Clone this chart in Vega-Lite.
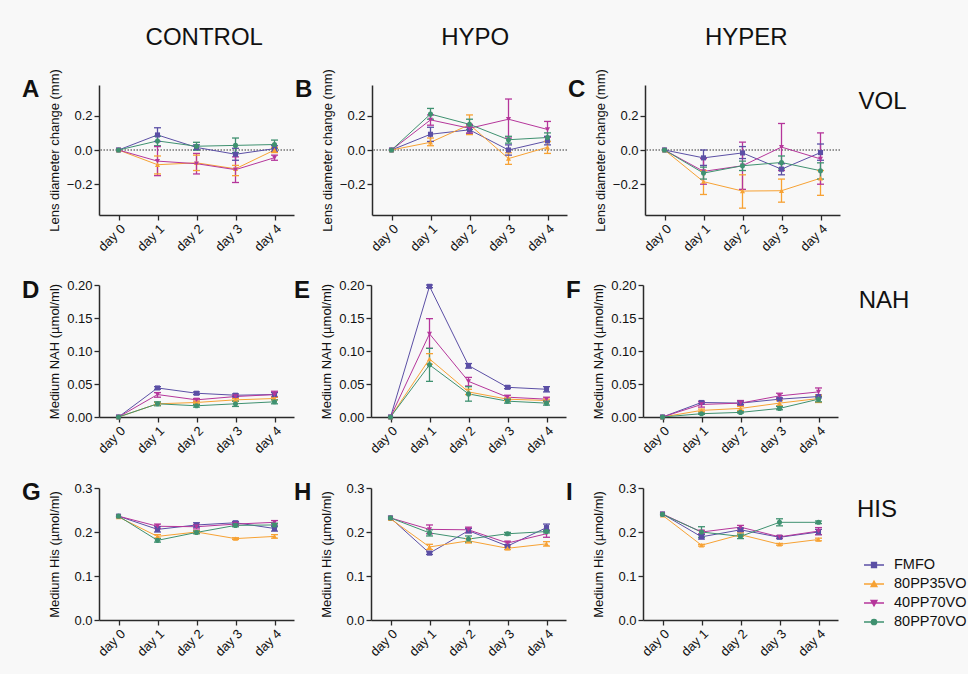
{
"$schema":"https://vega.github.io/schema/vega-lite/v6.json",
"background":"#f8f8f8",
"padding":{"left":22,"top":25,"right":3,"bottom":15},
"config":{
 "font":"Liberation Sans",
 "view":{"stroke":null},
 "axis":{"domainColor":"#2a2a2a","domainWidth":1.5,"tickColor":"#2a2a2a","tickWidth":1.3,"tickSize":5,"labelColor":"#111","labelFontSize":13,"labelFont":"Liberation Sans","titleFont":"Liberation Sans","titleFontSize":13,"titleFontWeight":"normal","titleColor":"#111","grid":false,"labelPadding":2,"labelOverlap":false},
 "axisX":{"labelAngle":-45},
 "axisY":{"minExtent":36,"maxExtent":36,"titlePadding":2},
 "title":{"orient":"top","angle":0,"anchor":"start","align":"left","baseline":"top","frame":"bounds","dx":-26,"dy":0,"fontSize":24,"fontWeight":"bold","color":"#111"},
 "tick":{"thickness":1.3,"size":7,"opacity":1},
 "point":{"filled":true,"size":26,"opacity":1},
 "line":{"strokeWidth":1},
 "rule":{"strokeWidth":1.3}
},
"datasets":{
"A":[
{"s":"FMFO","d":"day 0","v":0},{"s":"FMFO","d":"day 1","v":0.088,"lo":0.05,"hi":0.13},{"s":"FMFO","d":"day 2","v":0.015,"lo":0.0,"hi":0.03},{"s":"FMFO","d":"day 3","v":-0.025,"lo":-0.06,"hi":0.01},{"s":"FMFO","d":"day 4","v":0.008,"lo":-0.008,"hi":0.025},
{"s":"80PP35VO","d":"day 0","v":0},{"s":"80PP35VO","d":"day 1","v":-0.086,"lo":-0.14,"hi":-0.035},{"s":"80PP35VO","d":"day 2","v":-0.075,"lo":-0.12,"hi":-0.03},{"s":"80PP35VO","d":"day 3","v":-0.11,"lo":-0.15,"hi":-0.09},{"s":"80PP35VO","d":"day 4","v":0.0,"lo":-0.015,"hi":0.015},
{"s":"40PP70VO","d":"day 0","v":0},{"s":"40PP70VO","d":"day 1","v":-0.065,"lo":-0.15,"hi":0.02},{"s":"40PP70VO","d":"day 2","v":-0.08,"lo":-0.14,"hi":-0.02},{"s":"40PP70VO","d":"day 3","v":-0.115,"lo":-0.19,"hi":-0.04},{"s":"40PP70VO","d":"day 4","v":-0.045,"lo":-0.06,"hi":-0.03},
{"s":"80PP70VO","d":"day 0","v":0},{"s":"80PP70VO","d":"day 1","v":0.053,"lo":0.025,"hi":0.08},{"s":"80PP70VO","d":"day 2","v":0.022,"lo":0.0,"hi":0.045},{"s":"80PP70VO","d":"day 3","v":0.027,"lo":-0.015,"hi":0.07},{"s":"80PP70VO","d":"day 4","v":0.032,"lo":0.01,"hi":0.058}
],
"B":[
{"s":"FMFO","d":"day 0","v":0},{"s":"FMFO","d":"day 1","v":0.092,"lo":0.05,"hi":0.133},{"s":"FMFO","d":"day 2","v":0.118,"lo":0.095,"hi":0.14},{"s":"FMFO","d":"day 3","v":0.0,"lo":-0.03,"hi":0.03},{"s":"FMFO","d":"day 4","v":0.053,"lo":0.03,"hi":0.08},
{"s":"80PP35VO","d":"day 0","v":0},{"s":"80PP35VO","d":"day 1","v":0.045,"lo":0.025,"hi":0.07},{"s":"80PP35VO","d":"day 2","v":0.148,"lo":0.09,"hi":0.205},{"s":"80PP35VO","d":"day 3","v":-0.05,"lo":-0.084,"hi":-0.016},{"s":"80PP35VO","d":"day 4","v":0.016,"lo":-0.02,"hi":0.05},
{"s":"40PP70VO","d":"day 0","v":0},{"s":"40PP70VO","d":"day 1","v":0.176,"lo":0.145,"hi":0.205},{"s":"40PP70VO","d":"day 2","v":0.127,"lo":0.1,"hi":0.15},{"s":"40PP70VO","d":"day 3","v":0.18,"lo":0.07,"hi":0.298},{"s":"40PP70VO","d":"day 4","v":0.12,"lo":0.075,"hi":0.167},
{"s":"80PP70VO","d":"day 0","v":0},{"s":"80PP70VO","d":"day 1","v":0.21,"lo":0.18,"hi":0.243},{"s":"80PP70VO","d":"day 2","v":0.15,"lo":0.12,"hi":0.18},{"s":"80PP70VO","d":"day 3","v":0.06,"lo":0.04,"hi":0.08},{"s":"80PP70VO","d":"day 4","v":0.073,"lo":0.05,"hi":0.1}
],
"C":[
{"s":"FMFO","d":"day 0","v":0},{"s":"FMFO","d":"day 1","v":-0.046,"lo":-0.09,"hi":0.0},{"s":"FMFO","d":"day 2","v":-0.017,"lo":-0.05,"hi":0.02},{"s":"FMFO","d":"day 3","v":-0.112,"lo":-0.145,"hi":-0.08},{"s":"FMFO","d":"day 4","v":-0.015,"lo":-0.06,"hi":0.035},
{"s":"80PP35VO","d":"day 0","v":0},{"s":"80PP35VO","d":"day 1","v":-0.185,"lo":-0.26,"hi":-0.12},{"s":"80PP35VO","d":"day 2","v":-0.24,"lo":-0.34,"hi":-0.145},{"s":"80PP35VO","d":"day 3","v":-0.238,"lo":-0.305,"hi":-0.17},{"s":"80PP35VO","d":"day 4","v":-0.165,"lo":-0.265,"hi":-0.12},
{"s":"40PP70VO","d":"day 0","v":0},{"s":"40PP70VO","d":"day 1","v":-0.125,"lo":-0.2,"hi":-0.05},{"s":"40PP70VO","d":"day 2","v":-0.092,"lo":-0.23,"hi":0.046},{"s":"40PP70VO","d":"day 3","v":0.017,"lo":-0.12,"hi":0.155},{"s":"40PP70VO","d":"day 4","v":-0.052,"lo":-0.2,"hi":0.1},
{"s":"80PP70VO","d":"day 0","v":0},{"s":"80PP70VO","d":"day 1","v":-0.135,"lo":-0.17,"hi":-0.1},{"s":"80PP70VO","d":"day 2","v":-0.092,"lo":-0.12,"hi":-0.065},{"s":"80PP70VO","d":"day 3","v":-0.073,"lo":-0.11,"hi":-0.035},{"s":"80PP70VO","d":"day 4","v":-0.121,"lo":-0.17,"hi":-0.075}
],
"D":[
{"s":"FMFO","d":"day 0","v":0},{"s":"FMFO","d":"day 1","v":0.044,"lo":0.042,"hi":0.046},{"s":"FMFO","d":"day 2","v":0.036,"lo":0.034,"hi":0.038},{"s":"FMFO","d":"day 3","v":0.033,"lo":0.031,"hi":0.035},{"s":"FMFO","d":"day 4","v":0.034,"lo":0.031,"hi":0.037},
{"s":"80PP35VO","d":"day 0","v":0},{"s":"80PP35VO","d":"day 1","v":0.02,"lo":0.018,"hi":0.022},{"s":"80PP35VO","d":"day 2","v":0.022,"lo":0.02,"hi":0.024},{"s":"80PP35VO","d":"day 3","v":0.026,"lo":0.024,"hi":0.028},{"s":"80PP35VO","d":"day 4","v":0.028,"lo":0.026,"hi":0.03},
{"s":"40PP70VO","d":"day 0","v":0},{"s":"40PP70VO","d":"day 1","v":0.034,"lo":0.03,"hi":0.037},{"s":"40PP70VO","d":"day 2","v":0.026,"lo":0.024,"hi":0.028},{"s":"40PP70VO","d":"day 3","v":0.031,"lo":0.029,"hi":0.033},{"s":"40PP70VO","d":"day 4","v":0.034,"lo":0.03,"hi":0.039},
{"s":"80PP70VO","d":"day 0","v":0},{"s":"80PP70VO","d":"day 1","v":0.02,"lo":0.017,"hi":0.023},{"s":"80PP70VO","d":"day 2","v":0.017,"lo":0.015,"hi":0.019},{"s":"80PP70VO","d":"day 3","v":0.02,"lo":0.016,"hi":0.024},{"s":"80PP70VO","d":"day 4","v":0.023,"lo":0.02,"hi":0.026}
],
"E":[
{"s":"FMFO","d":"day 0","v":0},{"s":"FMFO","d":"day 1","v":0.198,"lo":0.196,"hi":0.2},{"s":"FMFO","d":"day 2","v":0.078,"lo":0.074,"hi":0.081},{"s":"FMFO","d":"day 3","v":0.045,"lo":0.043,"hi":0.047},{"s":"FMFO","d":"day 4","v":0.042,"lo":0.038,"hi":0.046},
{"s":"80PP35VO","d":"day 0","v":0},{"s":"80PP35VO","d":"day 1","v":0.088,"lo":0.08,"hi":0.096},{"s":"80PP35VO","d":"day 2","v":0.038,"lo":0.034,"hi":0.042},{"s":"80PP35VO","d":"day 3","v":0.027,"lo":0.025,"hi":0.029},{"s":"80PP35VO","d":"day 4","v":0.025,"lo":0.023,"hi":0.027},
{"s":"40PP70VO","d":"day 0","v":0},{"s":"40PP70VO","d":"day 1","v":0.126,"lo":0.104,"hi":0.149},{"s":"40PP70VO","d":"day 2","v":0.054,"lo":0.047,"hi":0.06},{"s":"40PP70VO","d":"day 3","v":0.03,"lo":0.027,"hi":0.033},{"s":"40PP70VO","d":"day 4","v":0.027,"lo":0.024,"hi":0.03},
{"s":"80PP70VO","d":"day 0","v":0},{"s":"80PP70VO","d":"day 1","v":0.079,"lo":0.054,"hi":0.104},{"s":"80PP70VO","d":"day 2","v":0.035,"lo":0.024,"hi":0.046},{"s":"80PP70VO","d":"day 3","v":0.024,"lo":0.021,"hi":0.027},{"s":"80PP70VO","d":"day 4","v":0.021,"lo":0.018,"hi":0.024}
],
"F":[
{"s":"FMFO","d":"day 0","v":0},{"s":"FMFO","d":"day 1","v":0.022,"lo":0.02,"hi":0.024},{"s":"FMFO","d":"day 2","v":0.021,"lo":0.019,"hi":0.023},{"s":"FMFO","d":"day 3","v":0.027,"lo":0.025,"hi":0.029},{"s":"FMFO","d":"day 4","v":0.031,"lo":0.029,"hi":0.033},
{"s":"80PP35VO","d":"day 0","v":0},{"s":"80PP35VO","d":"day 1","v":0.01,"lo":0.008,"hi":0.012},{"s":"80PP35VO","d":"day 2","v":0.013,"lo":0.01,"hi":0.016},{"s":"80PP35VO","d":"day 3","v":0.021,"lo":0.017,"hi":0.025},{"s":"80PP35VO","d":"day 4","v":0.028,"lo":0.022,"hi":0.033},
{"s":"40PP70VO","d":"day 0","v":0},{"s":"40PP70VO","d":"day 1","v":0.019,"lo":0.015,"hi":0.023},{"s":"40PP70VO","d":"day 2","v":0.021,"lo":0.017,"hi":0.025},{"s":"40PP70VO","d":"day 3","v":0.032,"lo":0.028,"hi":0.036},{"s":"40PP70VO","d":"day 4","v":0.038,"lo":0.033,"hi":0.044},
{"s":"80PP70VO","d":"day 0","v":0},{"s":"80PP70VO","d":"day 1","v":0.005,"lo":0.004,"hi":0.006},{"s":"80PP70VO","d":"day 2","v":0.007,"lo":0.006,"hi":0.008},{"s":"80PP70VO","d":"day 3","v":0.013,"lo":0.011,"hi":0.016},{"s":"80PP70VO","d":"day 4","v":0.027,"lo":0.023,"hi":0.031}
],
"G":[
{"s":"FMFO","d":"day 0","v":0.236},{"s":"FMFO","d":"day 1","v":0.206,"lo":0.2,"hi":0.212},{"s":"FMFO","d":"day 2","v":0.216,"lo":0.211,"hi":0.221},{"s":"FMFO","d":"day 3","v":0.221,"lo":0.218,"hi":0.224},{"s":"FMFO","d":"day 4","v":0.208,"lo":0.202,"hi":0.214},
{"s":"80PP35VO","d":"day 0","v":0.234},{"s":"80PP35VO","d":"day 1","v":0.19,"lo":0.186,"hi":0.194},{"s":"80PP35VO","d":"day 2","v":0.2,"lo":0.197,"hi":0.203},{"s":"80PP35VO","d":"day 3","v":0.185,"lo":0.183,"hi":0.187},{"s":"80PP35VO","d":"day 4","v":0.19,"lo":0.186,"hi":0.194},
{"s":"40PP70VO","d":"day 0","v":0.236},{"s":"40PP70VO","d":"day 1","v":0.213,"lo":0.208,"hi":0.218},{"s":"40PP70VO","d":"day 2","v":0.212,"lo":0.207,"hi":0.217},{"s":"40PP70VO","d":"day 3","v":0.218,"lo":0.215,"hi":0.221},{"s":"40PP70VO","d":"day 4","v":0.222,"lo":0.218,"hi":0.226},
{"s":"80PP70VO","d":"day 0","v":0.236},{"s":"80PP70VO","d":"day 1","v":0.181,"lo":0.177,"hi":0.185},{"s":"80PP70VO","d":"day 2","v":0.199,"lo":0.196,"hi":0.202},{"s":"80PP70VO","d":"day 3","v":0.215,"lo":0.212,"hi":0.218},{"s":"80PP70VO","d":"day 4","v":0.216,"lo":0.212,"hi":0.22}
],
"H":[
{"s":"FMFO","d":"day 0","v":0.232},{"s":"FMFO","d":"day 1","v":0.152,"lo":0.149,"hi":0.155},{"s":"FMFO","d":"day 2","v":0.203,"lo":0.198,"hi":0.208},{"s":"FMFO","d":"day 3","v":0.168,"lo":0.165,"hi":0.171},{"s":"FMFO","d":"day 4","v":0.21,"lo":0.202,"hi":0.218},
{"s":"80PP35VO","d":"day 0","v":0.23},{"s":"80PP35VO","d":"day 1","v":0.166,"lo":0.16,"hi":0.172},{"s":"80PP35VO","d":"day 2","v":0.18,"lo":0.175,"hi":0.185},{"s":"80PP35VO","d":"day 3","v":0.163,"lo":0.16,"hi":0.166},{"s":"80PP35VO","d":"day 4","v":0.173,"lo":0.168,"hi":0.178},
{"s":"40PP70VO","d":"day 0","v":0.232},{"s":"40PP70VO","d":"day 1","v":0.206,"lo":0.196,"hi":0.216},{"s":"40PP70VO","d":"day 2","v":0.205,"lo":0.199,"hi":0.211},{"s":"40PP70VO","d":"day 3","v":0.175,"lo":0.171,"hi":0.179},{"s":"40PP70VO","d":"day 4","v":0.196,"lo":0.188,"hi":0.204},
{"s":"80PP70VO","d":"day 0","v":0.232},{"s":"80PP70VO","d":"day 1","v":0.198,"lo":0.191,"hi":0.205},{"s":"80PP70VO","d":"day 2","v":0.184,"lo":0.177,"hi":0.191},{"s":"80PP70VO","d":"day 3","v":0.196,"lo":0.193,"hi":0.199},{"s":"80PP70VO","d":"day 4","v":0.201,"lo":0.198,"hi":0.204}
],
"I":[
{"s":"FMFO","d":"day 0","v":0.241},{"s":"FMFO","d":"day 1","v":0.189,"lo":0.184,"hi":0.194},{"s":"FMFO","d":"day 2","v":0.205,"lo":0.201,"hi":0.209},{"s":"FMFO","d":"day 3","v":0.188,"lo":0.185,"hi":0.191},{"s":"FMFO","d":"day 4","v":0.2,"lo":0.194,"hi":0.206},
{"s":"80PP35VO","d":"day 0","v":0.238},{"s":"80PP35VO","d":"day 1","v":0.17,"lo":0.168,"hi":0.172},{"s":"80PP35VO","d":"day 2","v":0.194,"lo":0.19,"hi":0.198},{"s":"80PP35VO","d":"day 3","v":0.172,"lo":0.17,"hi":0.174},{"s":"80PP35VO","d":"day 4","v":0.183,"lo":0.18,"hi":0.186},
{"s":"40PP70VO","d":"day 0","v":0.241},{"s":"40PP70VO","d":"day 1","v":0.2,"lo":0.196,"hi":0.204},{"s":"40PP70VO","d":"day 2","v":0.211,"lo":0.207,"hi":0.215},{"s":"40PP70VO","d":"day 3","v":0.189,"lo":0.186,"hi":0.192},{"s":"40PP70VO","d":"day 4","v":0.202,"lo":0.194,"hi":0.21},
{"s":"80PP70VO","d":"day 0","v":0.24},{"s":"80PP70VO","d":"day 1","v":0.2,"lo":0.188,"hi":0.212},{"s":"80PP70VO","d":"day 2","v":0.19,"lo":0.185,"hi":0.195},{"s":"80PP70VO","d":"day 3","v":0.222,"lo":0.214,"hi":0.23},{"s":"80PP70VO","d":"day 4","v":0.222,"lo":0.219,"hi":0.225}
]
},
"spacing":25,
"vconcat":[
{"spacing":0,"title":{"text":"VOL","orient":"right","angle":0,"anchor":"start","align":"left","baseline":"top","frame":"group","offset":-30,"fontSize":24,"fontWeight":"normal","dx":0,"dy":5},
 "hconcat":[
 {"title":{"text":"CONTROL","orient":"top","anchor":"middle","angle":0,"align":"center","baseline":"alphabetic","frame":"bounds","offset":0,"fontSize":24,"fontWeight":"normal","dx":46,"dy":0},
  "vconcat":[
  {"data":{"name":"A"},"width":195,"height":130,"title":{"text":"A","offset":-33},
   "layer":[
   {"transform":[{"filter":"datum.d==='day 0' && datum.s==='FMFO'"}],"mark":{"type":"rule","strokeDash":[1.5,1.5],"color":"#333","strokeWidth":1},"encoding":{"y":{"datum":0,"type":"quantitative","scale":{"domain":[-0.38,0.38]},"axis":{"values":[-0.2,0,0.2],"format":".1f","labelOverlap":false}}}},
   {"mark":"line","encoding":{"x":{"field":"d","type":"ordinal","title":null,"scale":{"type":"point","padding":0.5}},"y":{"field":"v","type":"quantitative","title":"Lens diameter change (mm)","scale":{"domain":[-0.38,0.38]},"axis":{"values":[-0.2,0,0.2],"format":".1f","labelOverlap":false}},"color":{"field":"s","type":"nominal","scale":{"domain":["FMFO","80PP35VO","40PP70VO","80PP70VO"],"range":["#5b4fa5","#f7a234","#b5369b","#3f9170"]},"legend":null}}},
   {"mark":"rule","encoding":{"x":{"field":"d","type":"ordinal","title":null,"scale":{"type":"point","padding":0.5}},"y":{"field":"lo","type":"quantitative","title":"Lens diameter change (mm)","scale":{"domain":[-0.38,0.38]},"axis":{"values":[-0.2,0,0.2],"format":".1f","labelOverlap":false}},"y2":{"field":"hi"},"color":{"field":"s","type":"nominal","legend":null}}},
   {"mark":"tick","encoding":{"x":{"field":"d","type":"ordinal","title":null,"scale":{"type":"point","padding":0.5}},"y":{"field":"lo","type":"quantitative","title":"Lens diameter change (mm)","scale":{"domain":[-0.38,0.38]},"axis":{"values":[-0.2,0,0.2],"format":".1f","labelOverlap":false}},"color":{"field":"s","type":"nominal","legend":null}}},
   {"mark":"tick","encoding":{"x":{"field":"d","type":"ordinal","title":null,"scale":{"type":"point","padding":0.5}},"y":{"field":"hi","type":"quantitative","title":"Lens diameter change (mm)","scale":{"domain":[-0.38,0.38]},"axis":{"values":[-0.2,0,0.2],"format":".1f","labelOverlap":false}},"color":{"field":"s","type":"nominal","legend":null}}},
   {"mark":"point","encoding":{"x":{"field":"d","type":"ordinal","title":null,"scale":{"type":"point","padding":0.5}},"y":{"field":"v","type":"quantitative","title":"Lens diameter change (mm)","scale":{"domain":[-0.38,0.38]},"axis":{"values":[-0.2,0,0.2],"format":".1f","labelOverlap":false}},"color":{"field":"s","type":"nominal","legend":null},"shape":{"field":"s","type":"nominal","scale":{"domain":["FMFO","80PP35VO","40PP70VO","80PP70VO"],"range":["square","triangle-up","triangle-down","circle"]},"legend":null}}}
   ]}
  ]},
 {"title":{"text":"HYPO","orient":"top","anchor":"middle","angle":0,"align":"center","baseline":"alphabetic","frame":"bounds","offset":0,"fontSize":24,"fontWeight":"normal","dx":44,"dy":0},
  "vconcat":[
  {"data":{"name":"B"},"width":195,"height":130,"title":{"text":"B","offset":-33},
   "layer":[
   {"transform":[{"filter":"datum.d==='day 0' && datum.s==='FMFO'"}],"mark":{"type":"rule","strokeDash":[1.5,1.5],"color":"#333","strokeWidth":1},"encoding":{"y":{"datum":0,"type":"quantitative","scale":{"domain":[-0.38,0.38]},"axis":{"values":[-0.2,0,0.2],"format":".1f","labelOverlap":false}}}},
   {"mark":"line","encoding":{"x":{"field":"d","type":"ordinal","title":null,"scale":{"type":"point","padding":0.5}},"y":{"field":"v","type":"quantitative","title":"Lens diameter change (mm)","scale":{"domain":[-0.38,0.38]},"axis":{"values":[-0.2,0,0.2],"format":".1f","labelOverlap":false}},"color":{"field":"s","type":"nominal","legend":null}}},
   {"mark":"rule","encoding":{"x":{"field":"d","type":"ordinal","title":null,"scale":{"type":"point","padding":0.5}},"y":{"field":"lo","type":"quantitative","title":"Lens diameter change (mm)","scale":{"domain":[-0.38,0.38]},"axis":{"values":[-0.2,0,0.2],"format":".1f","labelOverlap":false}},"y2":{"field":"hi"},"color":{"field":"s","type":"nominal","legend":null}}},
   {"mark":"tick","encoding":{"x":{"field":"d","type":"ordinal","title":null,"scale":{"type":"point","padding":0.5}},"y":{"field":"lo","type":"quantitative","title":"Lens diameter change (mm)","scale":{"domain":[-0.38,0.38]},"axis":{"values":[-0.2,0,0.2],"format":".1f","labelOverlap":false}},"color":{"field":"s","type":"nominal","legend":null}}},
   {"mark":"tick","encoding":{"x":{"field":"d","type":"ordinal","title":null,"scale":{"type":"point","padding":0.5}},"y":{"field":"hi","type":"quantitative","title":"Lens diameter change (mm)","scale":{"domain":[-0.38,0.38]},"axis":{"values":[-0.2,0,0.2],"format":".1f","labelOverlap":false}},"color":{"field":"s","type":"nominal","legend":null}}},
   {"mark":"point","encoding":{"x":{"field":"d","type":"ordinal","title":null,"scale":{"type":"point","padding":0.5}},"y":{"field":"v","type":"quantitative","title":"Lens diameter change (mm)","scale":{"domain":[-0.38,0.38]},"axis":{"values":[-0.2,0,0.2],"format":".1f","labelOverlap":false}},"color":{"field":"s","type":"nominal","legend":null},"shape":{"field":"s","type":"nominal","legend":null}}}
   ]}
  ]},
 {"title":{"text":"HYPER","orient":"top","anchor":"middle","angle":0,"align":"center","baseline":"alphabetic","frame":"bounds","offset":0,"fontSize":24,"fontWeight":"normal","dx":42,"dy":0},
  "vconcat":[
  {"data":{"name":"C"},"width":195,"height":130,"title":{"text":"C","offset":-33},
   "layer":[
   {"transform":[{"filter":"datum.d==='day 0' && datum.s==='FMFO'"}],"mark":{"type":"rule","strokeDash":[1.5,1.5],"color":"#333","strokeWidth":1},"encoding":{"y":{"datum":0,"type":"quantitative","scale":{"domain":[-0.38,0.38]},"axis":{"values":[-0.2,0,0.2],"format":".1f","labelOverlap":false}}}},
   {"mark":"line","encoding":{"x":{"field":"d","type":"ordinal","title":null,"scale":{"type":"point","padding":0.5}},"y":{"field":"v","type":"quantitative","title":"Lens diameter change (mm)","scale":{"domain":[-0.38,0.38]},"axis":{"values":[-0.2,0,0.2],"format":".1f","labelOverlap":false}},"color":{"field":"s","type":"nominal","legend":null}}},
   {"mark":"rule","encoding":{"x":{"field":"d","type":"ordinal","title":null,"scale":{"type":"point","padding":0.5}},"y":{"field":"lo","type":"quantitative","title":"Lens diameter change (mm)","scale":{"domain":[-0.38,0.38]},"axis":{"values":[-0.2,0,0.2],"format":".1f","labelOverlap":false}},"y2":{"field":"hi"},"color":{"field":"s","type":"nominal","legend":null}}},
   {"mark":"tick","encoding":{"x":{"field":"d","type":"ordinal","title":null,"scale":{"type":"point","padding":0.5}},"y":{"field":"lo","type":"quantitative","title":"Lens diameter change (mm)","scale":{"domain":[-0.38,0.38]},"axis":{"values":[-0.2,0,0.2],"format":".1f","labelOverlap":false}},"color":{"field":"s","type":"nominal","legend":null}}},
   {"mark":"tick","encoding":{"x":{"field":"d","type":"ordinal","title":null,"scale":{"type":"point","padding":0.5}},"y":{"field":"hi","type":"quantitative","title":"Lens diameter change (mm)","scale":{"domain":[-0.38,0.38]},"axis":{"values":[-0.2,0,0.2],"format":".1f","labelOverlap":false}},"color":{"field":"s","type":"nominal","legend":null}}},
   {"mark":"point","encoding":{"x":{"field":"d","type":"ordinal","title":null,"scale":{"type":"point","padding":0.5}},"y":{"field":"v","type":"quantitative","title":"Lens diameter change (mm)","scale":{"domain":[-0.38,0.38]},"axis":{"values":[-0.2,0,0.2],"format":".1f","labelOverlap":false}},"color":{"field":"s","type":"nominal","legend":null},"shape":{"field":"s","type":"nominal","legend":null}}}
   ]}
  ]}
 ]},
{"spacing":0,"title":{"text":"NAH","orient":"right","angle":0,"anchor":"start","align":"left","baseline":"top","frame":"group","offset":-30,"fontSize":24,"fontWeight":"normal","dx":0,"dy":4},
 "hconcat":[
  {"data":{"name":"D"},"width":195,"height":132,"title":{"text":"D","offset":-24},
   "layer":[
   {"mark":"line","encoding":{"x":{"field":"d","type":"ordinal","title":null,"scale":{"type":"point","padding":0.5}},"y":{"field":"v","type":"quantitative","title":"Medium NAH (µmol/ml)","scale":{"domain":[0,0.2]},"axis":{"values":[0,0.05,0.1,0.15,0.2],"format":".2f","labelOverlap":false}},"color":{"field":"s","type":"nominal","legend":null}}},
   {"mark":"rule","encoding":{"x":{"field":"d","type":"ordinal","title":null,"scale":{"type":"point","padding":0.5}},"y":{"field":"lo","type":"quantitative","title":"Medium NAH (µmol/ml)","scale":{"domain":[0,0.2]},"axis":{"values":[0,0.05,0.1,0.15,0.2],"format":".2f","labelOverlap":false}},"y2":{"field":"hi"},"color":{"field":"s","type":"nominal","legend":null}}},
   {"mark":"tick","encoding":{"x":{"field":"d","type":"ordinal","title":null,"scale":{"type":"point","padding":0.5}},"y":{"field":"lo","type":"quantitative","title":"Medium NAH (µmol/ml)","scale":{"domain":[0,0.2]},"axis":{"values":[0,0.05,0.1,0.15,0.2],"format":".2f","labelOverlap":false}},"color":{"field":"s","type":"nominal","legend":null}}},
   {"mark":"tick","encoding":{"x":{"field":"d","type":"ordinal","title":null,"scale":{"type":"point","padding":0.5}},"y":{"field":"hi","type":"quantitative","title":"Medium NAH (µmol/ml)","scale":{"domain":[0,0.2]},"axis":{"values":[0,0.05,0.1,0.15,0.2],"format":".2f","labelOverlap":false}},"color":{"field":"s","type":"nominal","legend":null}}},
   {"mark":"point","encoding":{"x":{"field":"d","type":"ordinal","title":null,"scale":{"type":"point","padding":0.5}},"y":{"field":"v","type":"quantitative","title":"Medium NAH (µmol/ml)","scale":{"domain":[0,0.2]},"axis":{"values":[0,0.05,0.1,0.15,0.2],"format":".2f","labelOverlap":false}},"color":{"field":"s","type":"nominal","legend":null},"shape":{"field":"s","type":"nominal","legend":null}}}
   ]},
  {"data":{"name":"E"},"width":195,"height":132,"title":{"text":"E","offset":-24},
   "layer":[
   {"mark":"line","encoding":{"x":{"field":"d","type":"ordinal","title":null,"scale":{"type":"point","padding":0.5}},"y":{"field":"v","type":"quantitative","title":"Medium NAH (µmol/ml)","scale":{"domain":[0,0.2]},"axis":{"values":[0,0.05,0.1,0.15,0.2],"format":".2f","labelOverlap":false}},"color":{"field":"s","type":"nominal","legend":null}}},
   {"mark":"rule","encoding":{"x":{"field":"d","type":"ordinal","title":null,"scale":{"type":"point","padding":0.5}},"y":{"field":"lo","type":"quantitative","title":"Medium NAH (µmol/ml)","scale":{"domain":[0,0.2]},"axis":{"values":[0,0.05,0.1,0.15,0.2],"format":".2f","labelOverlap":false}},"y2":{"field":"hi"},"color":{"field":"s","type":"nominal","legend":null}}},
   {"mark":"tick","encoding":{"x":{"field":"d","type":"ordinal","title":null,"scale":{"type":"point","padding":0.5}},"y":{"field":"lo","type":"quantitative","title":"Medium NAH (µmol/ml)","scale":{"domain":[0,0.2]},"axis":{"values":[0,0.05,0.1,0.15,0.2],"format":".2f","labelOverlap":false}},"color":{"field":"s","type":"nominal","legend":null}}},
   {"mark":"tick","encoding":{"x":{"field":"d","type":"ordinal","title":null,"scale":{"type":"point","padding":0.5}},"y":{"field":"hi","type":"quantitative","title":"Medium NAH (µmol/ml)","scale":{"domain":[0,0.2]},"axis":{"values":[0,0.05,0.1,0.15,0.2],"format":".2f","labelOverlap":false}},"color":{"field":"s","type":"nominal","legend":null}}},
   {"mark":"point","encoding":{"x":{"field":"d","type":"ordinal","title":null,"scale":{"type":"point","padding":0.5}},"y":{"field":"v","type":"quantitative","title":"Medium NAH (µmol/ml)","scale":{"domain":[0,0.2]},"axis":{"values":[0,0.05,0.1,0.15,0.2],"format":".2f","labelOverlap":false}},"color":{"field":"s","type":"nominal","legend":null},"shape":{"field":"s","type":"nominal","legend":null}}}
   ]},
  {"data":{"name":"F"},"width":195,"height":132,"title":{"text":"F","offset":-24},
   "layer":[
   {"mark":"line","encoding":{"x":{"field":"d","type":"ordinal","title":null,"scale":{"type":"point","padding":0.5}},"y":{"field":"v","type":"quantitative","title":"Medium NAH (µmol/ml)","scale":{"domain":[0,0.2]},"axis":{"values":[0,0.05,0.1,0.15,0.2],"format":".2f","labelOverlap":false}},"color":{"field":"s","type":"nominal","legend":null}}},
   {"mark":"rule","encoding":{"x":{"field":"d","type":"ordinal","title":null,"scale":{"type":"point","padding":0.5}},"y":{"field":"lo","type":"quantitative","title":"Medium NAH (µmol/ml)","scale":{"domain":[0,0.2]},"axis":{"values":[0,0.05,0.1,0.15,0.2],"format":".2f","labelOverlap":false}},"y2":{"field":"hi"},"color":{"field":"s","type":"nominal","legend":null}}},
   {"mark":"tick","encoding":{"x":{"field":"d","type":"ordinal","title":null,"scale":{"type":"point","padding":0.5}},"y":{"field":"lo","type":"quantitative","title":"Medium NAH (µmol/ml)","scale":{"domain":[0,0.2]},"axis":{"values":[0,0.05,0.1,0.15,0.2],"format":".2f","labelOverlap":false}},"color":{"field":"s","type":"nominal","legend":null}}},
   {"mark":"tick","encoding":{"x":{"field":"d","type":"ordinal","title":null,"scale":{"type":"point","padding":0.5}},"y":{"field":"hi","type":"quantitative","title":"Medium NAH (µmol/ml)","scale":{"domain":[0,0.2]},"axis":{"values":[0,0.05,0.1,0.15,0.2],"format":".2f","labelOverlap":false}},"color":{"field":"s","type":"nominal","legend":null}}},
   {"mark":"point","encoding":{"x":{"field":"d","type":"ordinal","title":null,"scale":{"type":"point","padding":0.5}},"y":{"field":"v","type":"quantitative","title":"Medium NAH (µmol/ml)","scale":{"domain":[0,0.2]},"axis":{"values":[0,0.05,0.1,0.15,0.2],"format":".2f","labelOverlap":false}},"color":{"field":"s","type":"nominal","legend":null},"shape":{"field":"s","type":"nominal","legend":null}}}
   ]}
 ]},
{"spacing":0,"title":{"text":"HIS","orient":"right","angle":0,"anchor":"start","align":"left","baseline":"top","frame":"group","offset":-150,"fontSize":24,"fontWeight":"normal","dx":0,"dy":10},
 "hconcat":[
  {"data":{"name":"G"},"width":195,"height":132,"title":{"text":"G","offset":-23},
   "layer":[
   {"mark":"line","encoding":{"x":{"field":"d","type":"ordinal","title":null,"scale":{"type":"point","padding":0.5}},"y":{"field":"v","type":"quantitative","title":"Medium His (µmol/ml)","scale":{"domain":[0,0.3]},"axis":{"values":[0,0.1,0.2,0.3],"format":".1f","labelOverlap":false}},"color":{"field":"s","type":"nominal","legend":null}}},
   {"mark":"rule","encoding":{"x":{"field":"d","type":"ordinal","title":null,"scale":{"type":"point","padding":0.5}},"y":{"field":"lo","type":"quantitative","title":"Medium His (µmol/ml)","scale":{"domain":[0,0.3]},"axis":{"values":[0,0.1,0.2,0.3],"format":".1f","labelOverlap":false}},"y2":{"field":"hi"},"color":{"field":"s","type":"nominal","legend":null}}},
   {"mark":"tick","encoding":{"x":{"field":"d","type":"ordinal","title":null,"scale":{"type":"point","padding":0.5}},"y":{"field":"lo","type":"quantitative","title":"Medium His (µmol/ml)","scale":{"domain":[0,0.3]},"axis":{"values":[0,0.1,0.2,0.3],"format":".1f","labelOverlap":false}},"color":{"field":"s","type":"nominal","legend":null}}},
   {"mark":"tick","encoding":{"x":{"field":"d","type":"ordinal","title":null,"scale":{"type":"point","padding":0.5}},"y":{"field":"hi","type":"quantitative","title":"Medium His (µmol/ml)","scale":{"domain":[0,0.3]},"axis":{"values":[0,0.1,0.2,0.3],"format":".1f","labelOverlap":false}},"color":{"field":"s","type":"nominal","legend":null}}},
   {"mark":"point","encoding":{"x":{"field":"d","type":"ordinal","title":null,"scale":{"type":"point","padding":0.5}},"y":{"field":"v","type":"quantitative","title":"Medium His (µmol/ml)","scale":{"domain":[0,0.3]},"axis":{"values":[0,0.1,0.2,0.3],"format":".1f","labelOverlap":false}},"color":{"field":"s","type":"nominal","legend":null},"shape":{"field":"s","type":"nominal","legend":null}}}
   ]},
  {"data":{"name":"H"},"width":195,"height":132,"title":{"text":"H","offset":-23},
   "layer":[
   {"mark":"line","encoding":{"x":{"field":"d","type":"ordinal","title":null,"scale":{"type":"point","padding":0.5}},"y":{"field":"v","type":"quantitative","title":"Medium His (µmol/ml)","scale":{"domain":[0,0.3]},"axis":{"values":[0,0.1,0.2,0.3],"format":".1f","labelOverlap":false}},"color":{"field":"s","type":"nominal","legend":null}}},
   {"mark":"rule","encoding":{"x":{"field":"d","type":"ordinal","title":null,"scale":{"type":"point","padding":0.5}},"y":{"field":"lo","type":"quantitative","title":"Medium His (µmol/ml)","scale":{"domain":[0,0.3]},"axis":{"values":[0,0.1,0.2,0.3],"format":".1f","labelOverlap":false}},"y2":{"field":"hi"},"color":{"field":"s","type":"nominal","legend":null}}},
   {"mark":"tick","encoding":{"x":{"field":"d","type":"ordinal","title":null,"scale":{"type":"point","padding":0.5}},"y":{"field":"lo","type":"quantitative","title":"Medium His (µmol/ml)","scale":{"domain":[0,0.3]},"axis":{"values":[0,0.1,0.2,0.3],"format":".1f","labelOverlap":false}},"color":{"field":"s","type":"nominal","legend":null}}},
   {"mark":"tick","encoding":{"x":{"field":"d","type":"ordinal","title":null,"scale":{"type":"point","padding":0.5}},"y":{"field":"hi","type":"quantitative","title":"Medium His (µmol/ml)","scale":{"domain":[0,0.3]},"axis":{"values":[0,0.1,0.2,0.3],"format":".1f","labelOverlap":false}},"color":{"field":"s","type":"nominal","legend":null}}},
   {"mark":"point","encoding":{"x":{"field":"d","type":"ordinal","title":null,"scale":{"type":"point","padding":0.5}},"y":{"field":"v","type":"quantitative","title":"Medium His (µmol/ml)","scale":{"domain":[0,0.3]},"axis":{"values":[0,0.1,0.2,0.3],"format":".1f","labelOverlap":false}},"color":{"field":"s","type":"nominal","legend":null},"shape":{"field":"s","type":"nominal","legend":null}}}
   ]},
  {"data":{"name":"I"},"width":195,"height":132,"title":{"text":"I","offset":-23},
   "resolve":{"scale":{"shape":"independent","fill":"independent","stroke":"independent"}},
   "layer":[
   {"mark":"line","encoding":{"x":{"field":"d","type":"ordinal","title":null,"scale":{"type":"point","padding":0.5}},"y":{"field":"v","type":"quantitative","title":"Medium His (µmol/ml)","scale":{"domain":[0,0.3]},"axis":{"values":[0,0.1,0.2,0.3],"format":".1f","labelOverlap":false}},"color":{"field":"s","type":"nominal","legend":null}}},
   {"mark":"rule","encoding":{"x":{"field":"d","type":"ordinal","title":null,"scale":{"type":"point","padding":0.5}},"y":{"field":"lo","type":"quantitative","title":"Medium His (µmol/ml)","scale":{"domain":[0,0.3]},"axis":{"values":[0,0.1,0.2,0.3],"format":".1f","labelOverlap":false}},"y2":{"field":"hi"},"color":{"field":"s","type":"nominal","legend":null}}},
   {"mark":"tick","encoding":{"x":{"field":"d","type":"ordinal","title":null,"scale":{"type":"point","padding":0.5}},"y":{"field":"lo","type":"quantitative","title":"Medium His (µmol/ml)","scale":{"domain":[0,0.3]},"axis":{"values":[0,0.1,0.2,0.3],"format":".1f","labelOverlap":false}},"color":{"field":"s","type":"nominal","legend":null}}},
   {"mark":"tick","encoding":{"x":{"field":"d","type":"ordinal","title":null,"scale":{"type":"point","padding":0.5}},"y":{"field":"hi","type":"quantitative","title":"Medium His (µmol/ml)","scale":{"domain":[0,0.3]},"axis":{"values":[0,0.1,0.2,0.3],"format":".1f","labelOverlap":false}},"color":{"field":"s","type":"nominal","legend":null}}},
   {"mark":"point","encoding":{"x":{"field":"d","type":"ordinal","title":null,"scale":{"type":"point","padding":0.5}},"y":{"field":"v","type":"quantitative","title":"Medium His (µmol/ml)","scale":{"domain":[0,0.3]},"axis":{"values":[0,0.1,0.2,0.3],"format":".1f","labelOverlap":false}},"color":{"field":"s","type":"nominal","legend":null},"shape":{"field":"s","type":"nominal","scale":{"domain":["FMFO","80PP35VO","40PP70VO","80PP70VO"],"range":["square","triangle-up","triangle-down","circle"]},"legend":null}}},
   {"mark":{"type":"point","filled":true,"size":0,"opacity":1},"encoding":{"x":{"field":"d","type":"ordinal","title":null,"scale":{"type":"point","padding":0.5}},"y":{"field":"v","type":"quantitative","title":"Medium His (µmol/ml)","scale":{"domain":[0,0.3]},"axis":{"values":[0,0.1,0.2,0.3],"format":".1f","labelOverlap":false}},
     "shape":{"field":"s","type":"nominal","scale":{"domain":["FMFO","80PP35VO","40PP70VO","80PP70VO"],"range":["M-1,0H1M-0.25,-0.25H0.25V0.25H-0.25Z","M-1,0H1M0,-0.3L0.3,0.25H-0.3Z","M-1,0H1M0,0.3L0.3,-0.25H-0.3Z","M-1,0H1M0.27,0A0.27,0.27 0 1,1 -0.27,0A0.27,0.27 0 1,1 0.27,0Z"]},"legend":{"title":null,"orient":"none","legendX":220,"legendY":66,"symbolSize":400,"symbolStrokeWidth":1.3,"labelFontSize":14.5,"labelColor":"#111","rowPadding":1,"labelOffset":9,"padding":0}},
     "fill":{"field":"s","type":"nominal","scale":{"domain":["FMFO","80PP35VO","40PP70VO","80PP70VO"],"range":["#5b4fa5","#f7a234","#b5369b","#3f9170"]},"legend":{"title":null,"orient":"none","legendX":220,"legendY":66,"symbolSize":400,"symbolStrokeWidth":1.3,"labelFontSize":14.5,"labelColor":"#111","rowPadding":1,"labelOffset":9,"padding":0}},
     "stroke":{"field":"s","type":"nominal","scale":{"domain":["FMFO","80PP35VO","40PP70VO","80PP70VO"],"range":["#5b4fa5","#f7a234","#b5369b","#3f9170"]},"legend":{"title":null,"orient":"none","legendX":220,"legendY":66,"symbolSize":400,"symbolStrokeWidth":1.3,"labelFontSize":14.5,"labelColor":"#111","rowPadding":1,"labelOffset":9,"padding":0}}}}
   ]}
 ]}
]
}
